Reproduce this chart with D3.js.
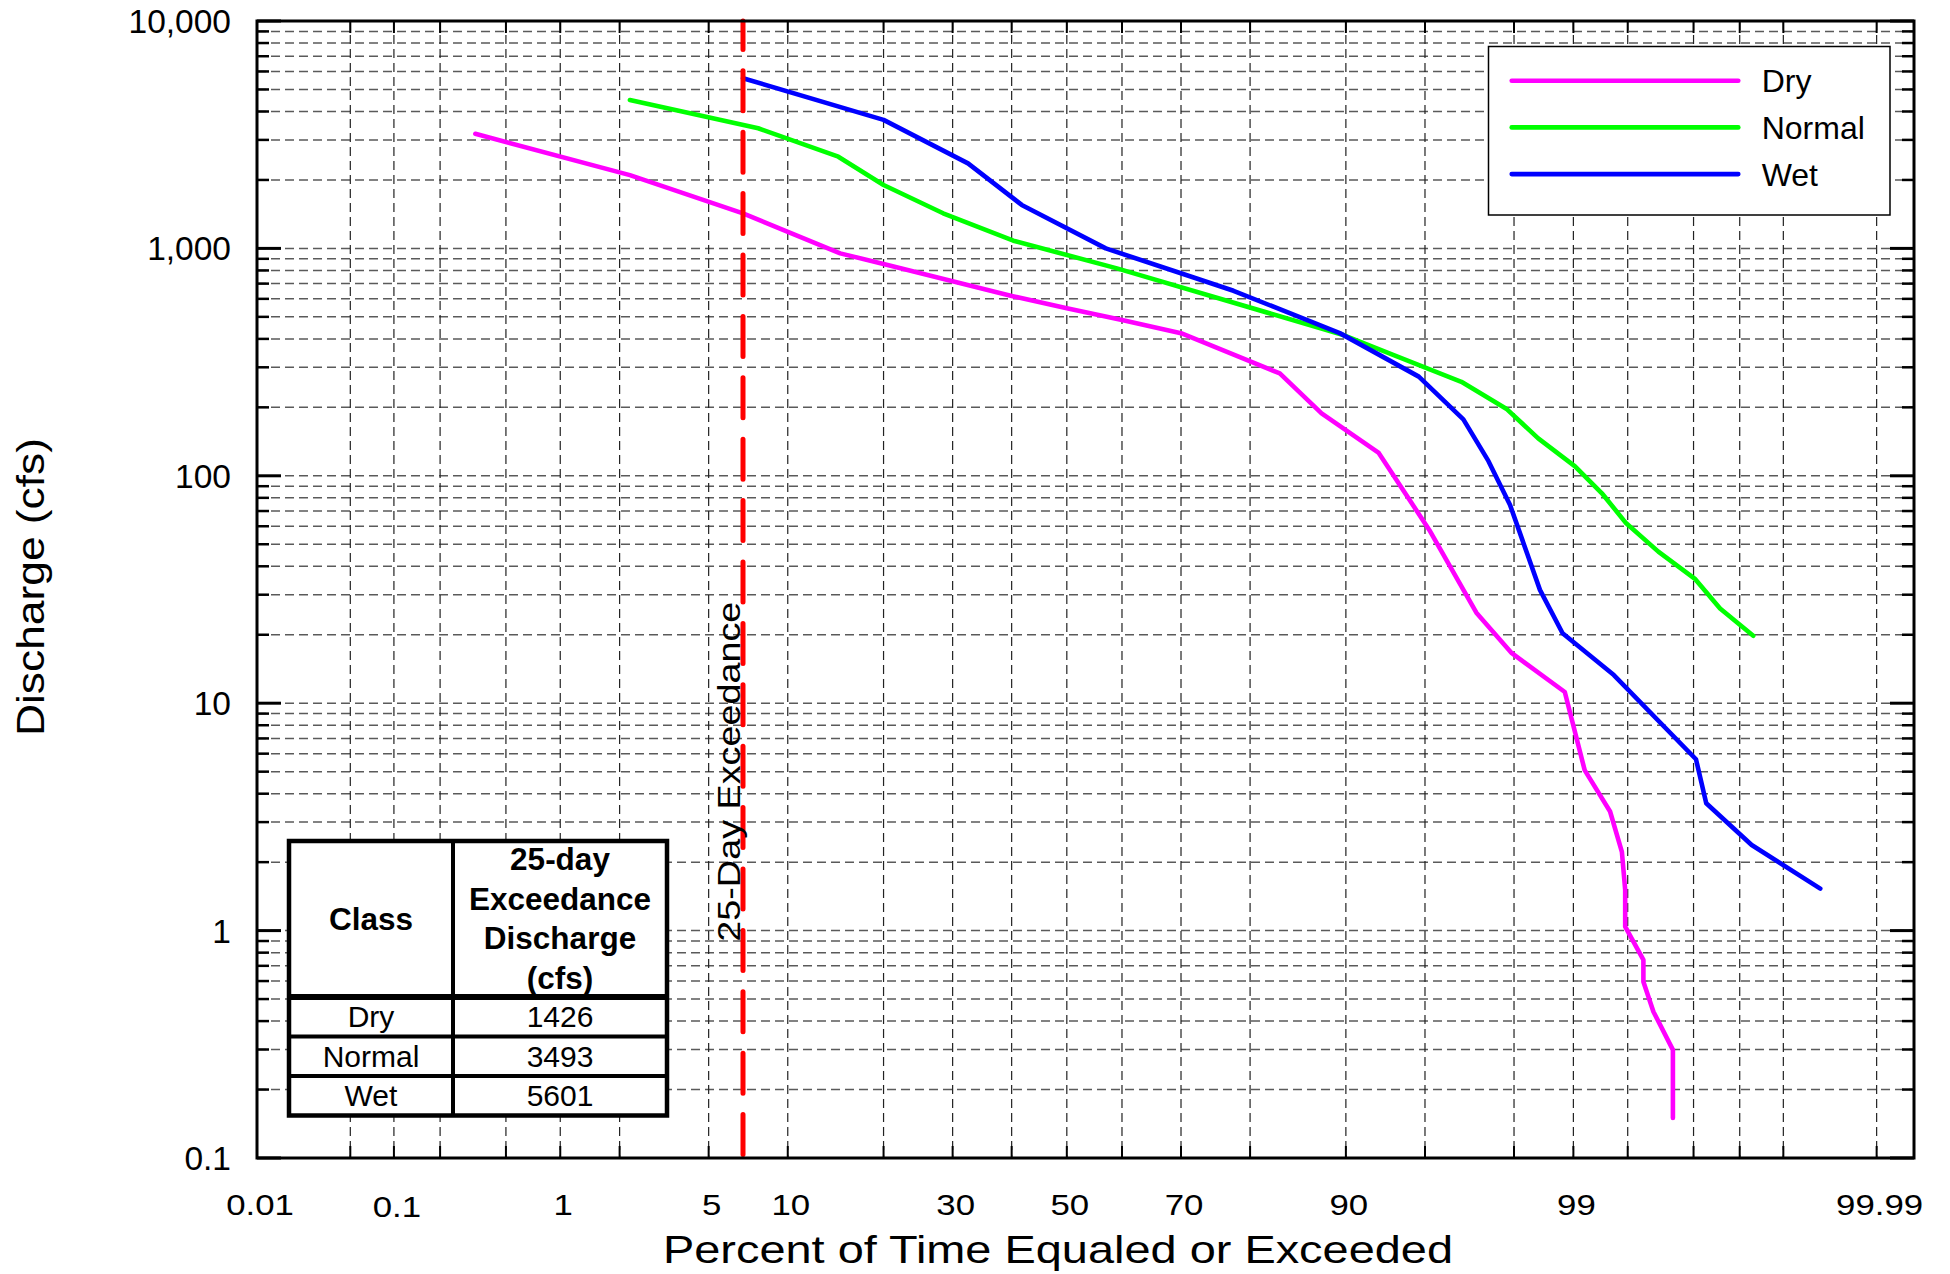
<!DOCTYPE html>
<html><head><meta charset="utf-8">
<script src="https://cdn.jsdelivr.net/npm/d3@7"></script>
<style>
html,body{margin:0;padding:0;background:#fff;}
svg text{font-family:"Liberation Sans",Arial,Helvetica,sans-serif;fill:#000;}
</style></head>
<body>
<svg id="chart" width="1950" height="1274"></svg>
<script>
// ---------------- DATA ----------------
const seriesNames = ["Dry", "Normal", "Wet"];
const seriesColors = ["#ff00ff", "#00ff00", "#0000ff"];

const dryPct = [0.33, 2.24, 6.85, 14.9, 20, 40, 50, 60, 70, 83.6, 87.9, 92.4, 95.2, 97.0, 97.95, 98.89, 99.13, 99.37, 99.46, 99.483, 99.483, 99.595, 99.595, 99.647, 99.731, 99.731];
const dryQ   = [3190, 2100, 1426, 951, 853, 618, 546, 484, 424, 282, 188, 126, 57.8, 25, 16.6, 11.2, 5.08, 3.34, 2.22, 1.51, 1.04, 0.743, 0.596, 0.44, 0.299, 0.150];

const normalPct = [2.24, 7.82, 14.7, 20, 28.5, 40.3, 59.1, 89.8, 93.3, 96.5, 97.84, 98.48, 99.02, 99.30, 99.49, 99.67, 99.805, 99.865, 99.919];
const normalQ   = [4494, 3375, 2531, 1900, 1427, 1081, 817, 416, 340, 259, 196, 146, 110, 83.8, 61.8, 46.4, 35.1, 26.1, 19.8];

const wetPct = [6.85, 20, 32.5, 41.8, 57.1, 70.1, 77.8, 89.5, 94.7, 96.57, 97.36, 97.91, 98.51, 98.86, 99.40, 99.807, 99.834, 99.917, 99.973];
const wetQ   = [5601, 3674, 2366, 1553, 1000, 776, 651, 424, 273, 177, 116, 74.4, 31.5, 20.3, 13.3, 5.67, 3.63, 2.38, 1.53];

const xTickLabels = [0.01, 0.1, 1, 5, 10, 30, 50, 70, 90, 99, 99.99];
const xGridPct = [0.05, 0.1, 0.2, 0.5, 1, 2, 5, 10, 20, 30, 40, 50, 60, 70, 80, 90, 95, 98, 99, 99.5, 99.8, 99.9, 99.95, 99.99];
const yDecades = [0.1, 1, 10, 100, 1000, 10000];
const exceedDays = 25;
const daysPerYear = 365;

const tableHeader = ["Class", ["25-day", "Exceedance", "Discharge", "(cfs)"]];
const tableClasses = ["Dry", "Normal", "Wet"];
const tableValues = [1426, 3493, 5601];

// ---------------- HELPERS ----------------
function qnorm(p){
  const a=[-3.969683028665376e+01,2.209460984245205e+02,-2.759285104469687e+02,1.383577518672690e+02,-3.066479806614716e+01,2.506628277459239e+00];
  const b=[-5.447609879822406e+01,1.615858368580409e+02,-1.556989798598866e+02,6.680131188771972e+01,-1.328068155288572e+01];
  const c=[-7.784894002430293e-03,-3.223964580411365e-01,-2.400758277161838e+00,-2.549732539343734e+00,4.374664141464968e+00,2.938163982698783e+00];
  const d=[7.784695709041462e-03,3.224671290700398e-01,2.445134137142996e+00,3.754408661907416e+00];
  const pl=0.02425, ph=1-pl; let q,r;
  if(p<pl){q=Math.sqrt(-2*Math.log(p));return (((((c[0]*q+c[1])*q+c[2])*q+c[3])*q+c[4])*q+c[5])/((((d[0]*q+d[1])*q+d[2])*q+d[3])*q+1);}
  if(p<=ph){q=p-0.5;r=q*q;return (((((a[0]*r+a[1])*r+a[2])*r+a[3])*r+a[4])*r+a[5])*q/(((((b[0]*r+b[1])*r+b[2])*r+b[3])*r+b[4])*r+1);}
  q=Math.sqrt(-2*Math.log(1-p));return -(((((c[0]*q+c[1])*q+c[2])*q+c[3])*q+c[4])*q+c[5])/((((d[0]*q+d[1])*q+d[2])*q+d[3])*q+1);
}

// ---------------- LAYOUT ----------------
const L = 257, T = 21, R = 1914, B = 1158;
const zScale = d3.scaleLinear().domain([qnorm(0.0001), qnorm(0.99995)]).range([L, R]);
const x = pct => zScale(qnorm(pct / 100));
const y = d3.scaleLog().domain([0.1, 10000]).range([B, T]);

const svg = d3.select("#chart");

const yMinor = [];
for (let i = 0; i < yDecades.length - 1; i++) for (let k = 2; k <= 9; k++) yMinor.push(yDecades[i] * k);

// ---------------- GRID ----------------
const grid = svg.append("g");
grid.selectAll("line.hg").data(yMinor.concat(yDecades.slice(1, -1))).enter().append("line")
  .attr("x1", L).attr("x2", R).attr("y1", d => y(d)).attr("y2", d => y(d))
  .attr("stroke", "#5a5a5a").attr("stroke-width", 1.5).attr("stroke-dasharray", "9,5");
grid.selectAll("line.vg").data(xGridPct).enter().append("line")
  .attr("y1", T).attr("y2", B).attr("x1", d => x(d)).attr("x2", d => x(d))
  .attr("stroke", "#222").attr("stroke-width", 1.2).attr("stroke-dasharray", "9,5");

// ---------------- TICKS ----------------
const ticks = svg.append("g").attr("stroke", "#000");
[[L, 1], [R, -1]].forEach(([ax, dir]) => {
  ticks.selectAll(null).data(yDecades).enter().append("line")
    .attr("x1", ax).attr("x2", ax + dir * 24).attr("y1", d => y(d)).attr("y2", d => y(d)).attr("stroke-width", 3);
  ticks.selectAll(null).data(yMinor).enter().append("line")
    .attr("x1", ax).attr("x2", ax + dir * 12).attr("y1", d => y(d)).attr("y2", d => y(d)).attr("stroke-width", 2.5);
});
[[B, -1], [T, 1]].forEach(([ay, dir]) => {
  ticks.selectAll(null).data(xGridPct).enter().append("line")
    .attr("y1", ay).attr("y2", ay + dir * 12).attr("x1", d => x(d)).attr("x2", d => x(d)).attr("stroke-width", 2);
});

// ---------------- SERIES ----------------
const series = [
  { name: seriesNames[0], color: seriesColors[0], pct: dryPct, q: dryQ },
  { name: seriesNames[1], color: seriesColors[1], pct: normalPct, q: normalQ },
  { name: seriesNames[2], color: seriesColors[2], pct: wetPct, q: wetQ }
];
const line = d3.line().x(d => x(d[0])).y(d => y(d[1]));
svg.append("g").selectAll("path").data(series).enter().append("path")
  .attr("d", s => line(s.pct.map((p, i) => [p, s.q[i]])))
  .attr("fill", "none").attr("stroke", s => s.color).attr("stroke-width", 4.6)
  .attr("stroke-linejoin", "round").attr("stroke-linecap", "round");

// ---------------- 25-DAY LINE ----------------
const xp = x(exceedDays / daysPerYear * 100);
svg.append("line").attr("x1", xp).attr("x2", xp).attr("y1", T).attr("y2", B)
  .attr("stroke", "#ff0000").attr("stroke-width", 5).attr("stroke-linecap", "round")
  .attr("stroke-dasharray", "40,21.4").attr("stroke-dashoffset", 11.6);
svg.append("text")
  .attr("transform", `translate(${xp - 3},771.7) rotate(-90)`)
  .attr("text-anchor", "middle").attr("font-size", 32)
  .attr("textLength", 340).attr("lengthAdjust", "spacingAndGlyphs")
  .text("25-Day Exceedance");

// ---------------- FRAME ----------------
svg.append("rect").attr("x", L).attr("y", T).attr("width", R - L).attr("height", B - T)
  .attr("fill", "none").attr("stroke", "#000").attr("stroke-width", 3);

// ---------------- AXIS LABELS ----------------
const fmt = d3.format(",");
svg.append("g").selectAll("text").data(yDecades).enter().append("text")
  .attr("x", 231).attr("y", d => y(d) + 12).attr("text-anchor", "end")
  .attr("font-size", 33.5).text(d => fmt(d));

svg.append("g").selectAll("text").data(xTickLabels).enter().append("text")
  .attr("transform", d => `translate(${x(d) + 3},${d === 0.1 ? 1217 : 1215}) scale(1.16,1)`)
  .attr("text-anchor", "middle").attr("font-size", 30).text(d => String(d));

svg.append("text").attr("x", 1058).attr("y", 1263).attr("text-anchor", "middle")
  .attr("font-size", 39.5).attr("textLength", 790).attr("lengthAdjust", "spacingAndGlyphs")
  .text("Percent of Time Equaled or Exceeded");

svg.append("text").attr("transform", "translate(44,587) rotate(-90)").attr("text-anchor", "middle")
  .attr("font-size", 38).attr("textLength", 298).attr("lengthAdjust", "spacingAndGlyphs")
  .text("Discharge (cfs)");

// ---------------- LEGEND ----------------
const lg = svg.append("g");
lg.append("rect").attr("x", 1488.5).attr("y", 46.5).attr("width", 401.5).attr("height", 168.5)
  .attr("fill", "#fff").attr("stroke", "#000").attr("stroke-width", 1.5);
const lgRows = lg.selectAll("g.row").data(series).enter().append("g")
  .attr("transform", (d, i) => `translate(0,${80.7 + i * 46.7})`);
lgRows.append("line").attr("x1", 1511.7).attr("x2", 1738.3).attr("y1", 0).attr("y2", 0)
  .attr("stroke", d => d.color).attr("stroke-width", 4.6).attr("stroke-linecap", "round");
lgRows.append("text").attr("x", 1761.7).attr("y", 11.6).attr("font-size", 32).text(d => d.name);

// ---------------- TABLE ----------------
const tb = svg.append("g");
const tL = 289, tR = 667, tT = 841, tB = 1115.5, tC = 453, hB = 997;
const rowH = (tB - hB) / tableClasses.length;
tb.append("rect").attr("x", tL).attr("y", tT).attr("width", tR - tL).attr("height", tB - tT)
  .attr("fill", "#fff").attr("stroke", "#000").attr("stroke-width", 4.5);
tb.append("line").attr("x1", tC).attr("x2", tC).attr("y1", tT).attr("y2", tB).attr("stroke", "#000").attr("stroke-width", 4);
tb.append("line").attr("x1", tL).attr("x2", tR).attr("y1", hB).attr("y2", hB).attr("stroke", "#000").attr("stroke-width", 6);
tb.selectAll("line.rs").data(tableClasses.slice(1)).enter().append("line")
  .attr("x1", tL).attr("x2", tR).attr("y1", (d, i) => hB + rowH * (i + 1)).attr("y2", (d, i) => hB + rowH * (i + 1))
  .attr("stroke", "#000").attr("stroke-width", 4);
const c1 = (tL + tC) / 2, c2 = (tC + tR) / 2;
tb.append("text").attr("x", c1).attr("y", 930).attr("text-anchor", "middle")
  .attr("font-size", 31.5).attr("font-weight", "bold").text(tableHeader[0]);
tb.selectAll("text.h2").data(tableHeader[1]).enter().append("text")
  .attr("x", c2).attr("y", (d, i) => 870 + i * 39.5).attr("text-anchor", "middle")
  .attr("font-size", 31.5).attr("font-weight", "bold").text(d => d);
tb.selectAll("text.cl").data(tableClasses).enter().append("text")
  .attr("x", c1).attr("y", (d, i) => hB + rowH * i + 30).attr("text-anchor", "middle")
  .attr("font-size", 30).text(d => d);
tb.selectAll("text.vl").data(tableValues).enter().append("text")
  .attr("x", c2).attr("y", (d, i) => hB + rowH * i + 30).attr("text-anchor", "middle")
  .attr("font-size", 30).text(d => String(d));
</script>
</body></html>
